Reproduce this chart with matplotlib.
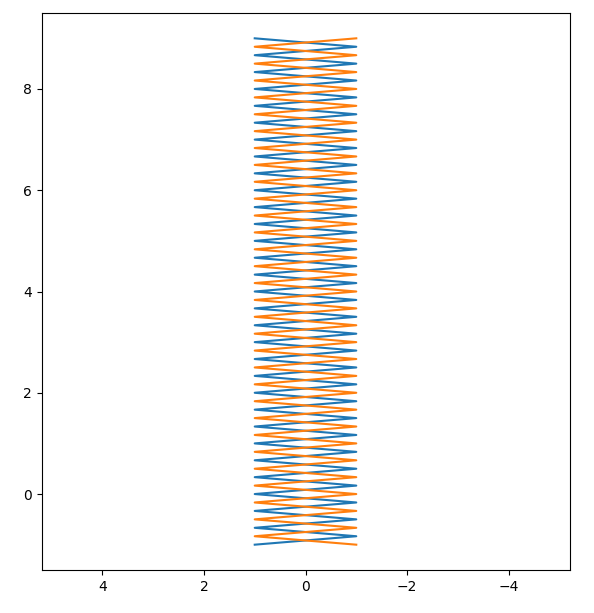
import numpy as np
import matplotlib
matplotlib.use("Agg")
import matplotlib.pyplot as plt

# Zigzag data: 61 vertices from y=-1 to y=9, x alternating between +1 and -1
n_points = 61
y_vals = np.linspace(-1, 9, n_points)
blue_x = [1 if i % 2 == 0 else -1 for i in range(n_points)]
orange_x = [-1 if i % 2 == 0 else 1 for i in range(n_points)]

fig = plt.figure(figsize=(5.94, 6.13), dpi=100)
ax = fig.add_axes([41.5 / 594, 43 / 613, 528 / 594, 557 / 613])

ax.plot(blue_x, y_vals, color="tab:blue", lw=1.5)
ax.plot(orange_x, y_vals, color="tab:orange", lw=1.5)

ax.set_xlim(5.2, -5.2)
ax.set_ylim(-1.5, 9.5)
ax.set_xticks([4, 2, 0, -2, -4])
ax.set_yticks([0, 2, 4, 6, 8])

fig.savefig("out.png", dpi=100)
